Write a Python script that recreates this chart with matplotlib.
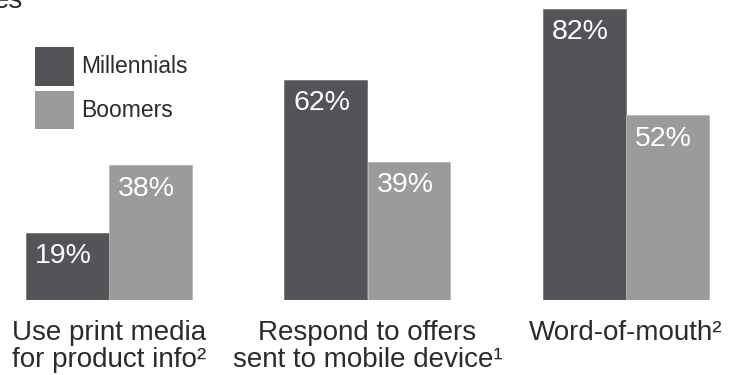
import matplotlib
matplotlib.use("Agg")
import matplotlib.pyplot as plt
import numpy as np

plt.rcParams['font.family'] = ['Liberation Sans', 'DejaVu Sans']

categories = ["Use print media\nfor product info²",
              "Respond to offers\nsent to mobile device¹",
              "Word-of-mouth²"]
series_names = ["Millennials", "Boomers"]
millennials = [19, 62, 82]
boomers = [38, 39, 52]
value_labels_m = ["19%", "62%", "82%"]
value_labels_b = ["38%", "39%", "52%"]

col_m = "#545358"
col_b = "#9b9b9b"
txt = "#2b2b2b"

W, H = 743, 375
fig = plt.figure(figsize=(W / 100, H / 100), dpi=100)
ax = fig.add_axes([0, 75 / H, 1, 300 / H])
ax.set_xlim(-109 / 258.5, (W - 109) / 258.5)
ax.set_ylim(0, 300 / 3.55)
ax.axis('off')

x = np.arange(len(categories))
bw = 83 / 258.5
bm = ax.bar(x - bw / 2, millennials, bw, color=col_m, edgecolor="#77767a", linewidth=0.6, label=series_names[0])
bb = ax.bar(x + bw / 2, boomers, bw, color=col_b, edgecolor="#b5b5b5", linewidth=0.6, label=series_names[1])

for xi, v, lab in zip(x - bw, millennials, value_labels_m):
    ax.annotate(lab, xy=(xi, v), xytext=(6.5, -22), textcoords='offset points',
                ha='left', va='baseline', color='white', fontsize=20.5)
for xi, v, lab in zip(x, boomers, value_labels_b):
    ax.annotate(lab, xy=(xi, v), xytext=(6.5, -22), textcoords='offset points',
                ha='left', va='baseline', color='white', fontsize=20.5)

for xi, cat in zip(x, categories):
    for k, line in enumerate(cat.split("\n")):
        ax.annotate(line, xy=(xi, 0), xytext=(0, -28.5 - k * 19.5), textcoords='offset points',
                    ha='center', va='baseline', color=txt, fontsize=20, annotation_clip=False)

leg = ax.legend(handles=[bm, bb], loc='upper left',
                bbox_to_anchor=(35 / W, 1 - 47 / 300), bbox_transform=ax.transAxes,
                frameon=False, fontsize=16.5, handlelength=1.70, handleheight=2.21,
                labelspacing=0.22, handletextpad=0.33, borderpad=0, borderaxespad=0)
for t in leg.get_texts():
    t.set_color(txt)
for h in leg.legend_handles:
    h.set_edgecolor('none')

fig.text(23 / W, 1 - 8 / H, "es", ha='right', va='baseline', color=txt, fontsize=20)

fig.savefig("out.png", dpi=100)
